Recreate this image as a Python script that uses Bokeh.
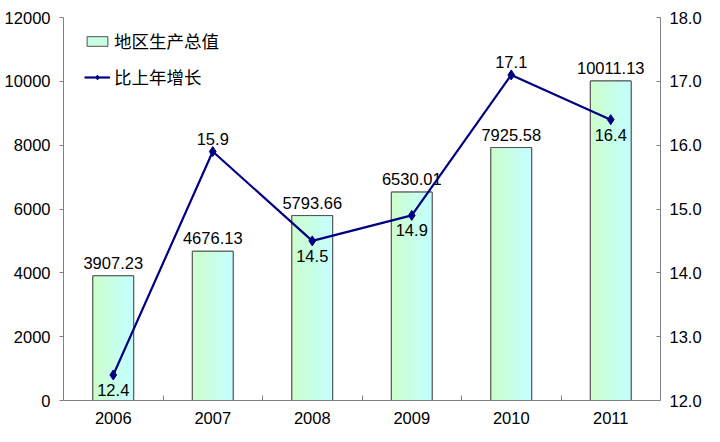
from bokeh.plotting import figure
from bokeh.models import (ColumnDataSource, Range1d, LinearAxis, FixedTicker,
                          Legend, LegendItem, NumeralTickFormatter)
from bokeh.core.properties import value
from bokeh.embed import file_html
from bokeh.resources import INLINE

years = ["2006", "2007", "2008", "2009", "2010", "2011"]
gdp = [3907.23, 4676.13, 5793.66, 6530.01, 7925.58, 10011.13]
growth = [12.4, 15.9, 14.5, 14.9, 17.1, 16.4]
growth_label_side = ["below", "above", "below", "below", "above", "below"]

left_ticks = [0, 2000, 4000, 6000, 8000, 10000, 12000]
right_ticks = [12.0, 13.0, 14.0, 15.0, 16.0, 17.0, 18.0]

FONT = "Liberation Sans"
CJK = "Noto Sans CJK SC"
FS = "16.5px"

xs = list(range(len(years)))
BAR_W = 0.41

p = figure(width=704, height=426, output_backend="svg", toolbar_location=None,
           x_range=Range1d(-0.5, len(years) - 0.5),
           y_range=Range1d(left_ticks[0], left_ticks[-1]),
           min_border_left=63, min_border_right=40, min_border_top=17,
           min_border_bottom=24)
p.outline_line_color = None
p.xgrid.visible = False
p.ygrid.visible = False
p.background_fill_color = "white"
p.border_fill_color = "white"

p.extra_y_ranges = {"pct": Range1d(right_ticks[0], right_ticks[-1])}

src = ColumnDataSource(dict(x=xs, gdp=gdp, growth=growth,
                            gdp_txt=["%.2f" % v for v in gdp],
                            gr_txt=["%.1f" % v for v in growth]))

# base bar (legend reference)
bar_base = p.vbar(x="x", top="gdp", bottom=0, width=BAR_W, source=src,
                  fill_color="#c8ffe4", line_color="#505050", line_width=1)

# gradient slices
n = 12
c0 = (0xcc, 0xff, 0xcc)
c1 = (0xc4, 0xff, 0xff)
sw = BAR_W / n
for k in range(n):
    t = k / (n - 1)
    col = "#%02x%02x%02x" % tuple(int(round(a + (b - a) * t)) for a, b in zip(c0, c1))
    off = -BAR_W / 2 + (k + 0.5) * sw
    p.vbar(x=[x + off for x in xs], top=gdp, bottom=0, width=sw * 1.05,
           fill_color=col, line_color=None)

p.vbar(x="x", top="gdp", bottom=0, width=BAR_W, source=src,
       fill_color=None, line_color="#505050", line_width=1)

# bar labels
p.text(x="x", y="gdp", text="gdp_txt", source=src, text_align="center",
       text_baseline="bottom", y_offset=-7, text_font=value(FONT),
       text_font_size=FS, text_color="black")

# growth line
ln = p.line(x="x", y="growth", source=src, y_range_name="pct",
            line_color="#000080", line_width=2.2)
mk = p.scatter(x="x", y="growth", source=src, y_range_name="pct",
               marker="diamond", size=10, fill_color="#000080",
               line_color="#000080")

above = [i for i, s in enumerate(growth_label_side) if s == "above"]
below = [i for i, s in enumerate(growth_label_side) if s == "below"]
for idx, base, off in ((above, "bottom", -7), (below, "top", 9)):
    p.text(x=[xs[i] for i in idx], y=[growth[i] for i in idx],
           text=["%.1f" % growth[i] for i in idx], y_range_name="pct",
           text_align="center", text_baseline=base, y_offset=off,
           text_font=value(FONT), text_font_size=FS, text_color="black")

AX = "#808080"
# bottom axis
xa = p.xaxis[0]
xa.ticker = FixedTicker(ticks=xs, minor_ticks=[x + 0.5 for x in xs[:-1]])
xa.major_label_overrides = {x: y for x, y in zip(xs, years)}
xa.major_tick_line_color = None
xa.minor_tick_in = 5
xa.minor_tick_out = 0
xa.minor_tick_line_color = AX
xa.axis_line_color = AX
xa.major_label_standoff = 5
xa.major_label_text_font = FONT
xa.major_label_text_font_size = FS
xa.major_label_text_color = "black"

ya = p.yaxis[0]
ya.ticker = FixedTicker(ticks=left_ticks)
ya.axis_line_color = AX
ya.major_tick_line_color = AX
ya.major_tick_in = 0
ya.major_tick_out = 4
ya.minor_tick_line_color = None
ya.major_label_standoff = 9
ya.major_label_text_font = FONT
ya.major_label_text_font_size = FS
ya.major_label_text_color = "black"

ra = LinearAxis(y_range_name="pct", ticker=FixedTicker(ticks=right_ticks),
                formatter=NumeralTickFormatter(format="0.0"))
ra.axis_line_color = AX
ra.major_tick_line_color = AX
ra.major_tick_in = 4
ra.major_tick_out = 0
ra.minor_tick_line_color = None
ra.major_label_standoff = 9
ra.major_label_text_font = FONT
ra.major_label_text_font_size = FS
ra.major_label_text_color = "black"
p.add_layout(ra, "right")

legend = Legend(items=[LegendItem(label="地区生产总值", renderers=[bar_base]),
                       LegendItem(label="比上年增长", renderers=[ln, mk])],
                location=(21, 311), orientation="vertical",
                glyph_width=26, glyph_height=12, label_height=20,
                label_standoff=4, spacing=11, padding=0, margin=0,
                label_text_font=CJK, label_text_font_size="17.5px",
                label_text_color="black",
                border_line_color=None, background_fill_alpha=0)
p.add_layout(legend, "center")

open("out.html", "w").write(file_html(p, INLINE))
